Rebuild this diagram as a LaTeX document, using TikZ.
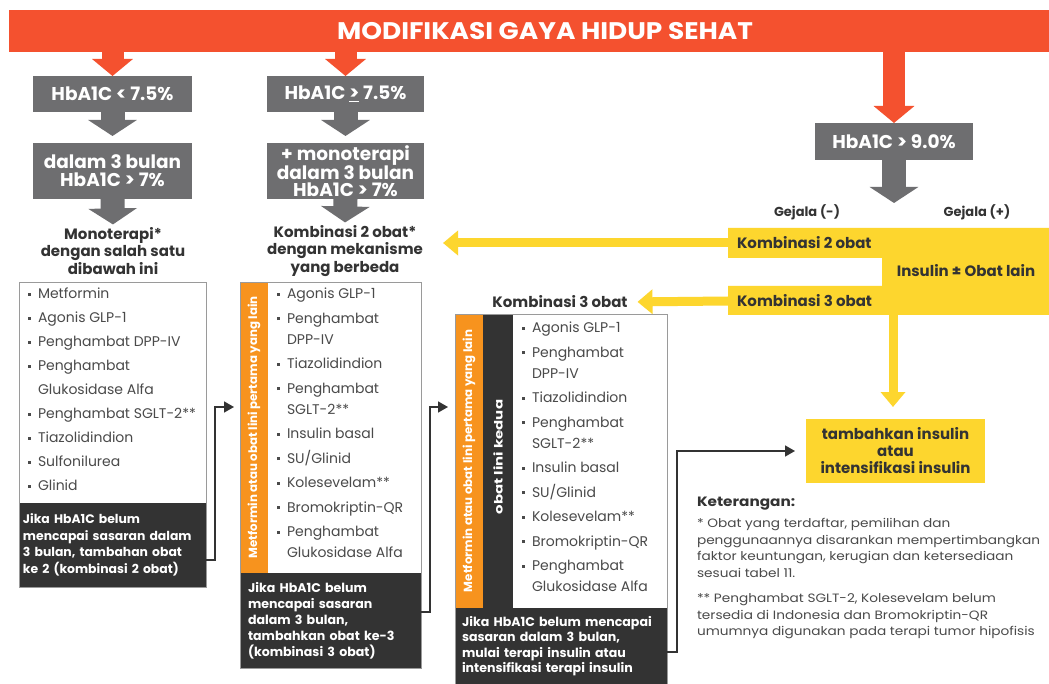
\documentclass[tikz,border=0pt]{standalone}
\usepackage{fontspec}
\setmainfont{Poppins}
\newfontfamily\widefont{Poppins}[FakeStretch=1.13]
\newfontfamily\bannerfont{Poppins}[FakeStretch=1.1]
\newfontfamily\kedfont{Poppins}[FakeStretch=1.3]
\usetikzlibrary{arrows.meta}
\definecolor{red1}{HTML}{F4512F}
\definecolor{gray1}{HTML}{6E6E70}
\definecolor{dark1}{HTML}{333333}
\definecolor{orng}{HTML}{F7931E}
\definecolor{yel}{HTML}{FDD62E}
\definecolor{txt}{HTML}{333333}
\definecolor{txt2}{HTML}{4A4A4A}
\definecolor{bord}{HTML}{9A9A9A}
\newcommand\bul{\makebox[10pt][l]{\raisebox{3pt}{\rule{3pt}{3pt}}}}
\newcommand\cnt{\hspace*{10pt}}
\begin{document}
\begin{tikzpicture}[x=1pt,y=-1pt,
  every node/.style={inner sep=0pt, outer sep=0pt},
  graybox/.style={fill=gray1, text=white, font=\bfseries\fontsize{18.5}{18}\selectfont, align=center, anchor=north west},
  redarr/.style={draw=red1, line width=22pt, -{Triangle[width=40pt,length=17pt]}, shorten <=-1pt},
  grayarr/.style={draw=gray1, line width=24pt, -{Triangle[width=48pt,length=16pt]}, shorten <=-1pt},
  yarr/.style={draw=yel, line width=9pt, -{Triangle[width=24pt,length=15pt]}, shorten <=-1pt},
  conn/.style={draw=dark1, line width=1.6pt, -{Triangle[width=11pt,length=10pt]}},
  hdtext/.style={text=txt, font=\bfseries\fontsize{15}{17.5}\selectfont, align=center},
  ytext/.style={text=txt, font=\bfseries\fontsize{15}{16}\selectfont},
  whitearea/.style={fill=white, anchor=north west},
  footbox/.style={fill=dark1, text=white, anchor=north west, align=left, font=\bfseries\fontsize{12.6}{16.5}\selectfont},
  items1/.style={text=txt2, anchor=north west, align=left, font=\fontsize{14}{24}\selectfont},
  items2/.style={text=txt2, anchor=north west, align=left, font=\fontsize{14}{21}\selectfont},
  strip/.style={anchor=north west},
  striptext/.style={rotate=90, text=white, font=\bfseries\fontsize{11.8}{12}\selectfont},
  frame/.style={draw=bord, line width=0.8pt}
]
\useasboundingbox (0,0) rectangle (1049,684);
\fill[white] (0,0) rectangle (1049,684);

% banner
\node[fill=red1, minimum width=1040pt, minimum height=42pt, anchor=north west] (banner) at (9,10) {};
\node[text=white, font=\bannerfont\bfseries\fontsize{24}{24}\selectfont] (bt) at (545,31) {MODIFIKASI GAYA HIDUP SEHAT};

% gray boxes
\node[graybox, minimum width=159pt, minimum height=36pt] (g1) at (33,76) {HbA1C < 7.5\%};
\node[graybox, minimum width=159pt, minimum height=56pt] (g2) at (33,143) {dalam 3 bulan\\HbA1C > 7\%};
\node[graybox, minimum width=157pt, minimum height=36pt] (g3) at (267,76) {HbA1C \underline{>} 7.5\%};
\node[graybox, minimum width=157pt, minimum height=56pt, font=\bfseries\fontsize{18.5}{16.5}\selectfont] (g4) at (267,143) {+ monoterapi\\dalam 3 bulan\\HbA1C > 7\%};
\node[graybox, minimum width=158pt, minimum height=37pt] (g5) at (815,123) {HbA1C > 9.0\%};

% headings
\node[hdtext] (h1) at (113,251) {Monoterapi*\\dengan salah satu\\dibawah ini};
\node[hdtext] (h2) at (345,251) {Kombinasi 2 obat*\\dengan mekanisme\\yang berbeda};

% red arrows
\draw[redarr] (g1.north |- banner.south) -- (g1.north);
\draw[redarr] (g3.north |- banner.south) -- (g3.north);
\draw[redarr] (g5.north |- banner.south) -- (g5.north);

% gray arrows
\draw[grayarr, shorten >=7pt] (g1.south) -- (g2.north);
\draw[grayarr, shorten >=3pt] (g2.south) -- (h1.north);
\draw[grayarr, shorten >=7pt] (g3.south) -- (g4.north);
\draw[grayarr, shorten >=3pt] (g4.south) -- (h2.north);
\coordinate (g5t) at (894,203);
\draw[grayarr] (g5.south) -- (g5t);

% Gejala
\node[text=txt, font=\bfseries\fontsize{13}{14}\selectfont] (gm) at (807,212) {Gejala (-)};
\node[text=txt, font=\bfseries\fontsize{13}{14}\selectfont] (gp) at (977,212) {Gejala (+)};

% yellow shape
\fill[yel] (728,228) -- (1049,228) -- (1049,315) -- (728,315) -- (728,286) -- (882,286) -- (882,258) -- (728,258) -- cycle;
\node[ytext, anchor=west, inner xsep=9pt] (k2) at (728,243) {Kombinasi 2 obat};
\node[ytext, anchor=west, inner xsep=9pt] (k3) at (728,301) {Kombinasi 3 obat};
\node[ytext] (ins) at (966,271) {Insulin ± Obat lain};
\coordinate (y2t) at (443,243);
\draw[yarr] (k2.west) -- (y2t);
\node[ytext] (k3lab) at (560,302) {Kombinasi 3 obat};
\draw[yarr, shorten >=10pt] (k3.west) -- (k3lab.east);
\node[fill=yel, minimum width=179pt, minimum height=64pt, anchor=north west, align=center, text=txt, font=\bfseries\fontsize{15}{17}\selectfont] (tb) at (806,419) {tambahkan insulin\\atau\\intensifikasi insulin};
\coordinate (ybot) at (893,314);
\draw[yarr, shorten >=12pt] (ybot) -- (ybot |- tb.north);

% box 1
\node[whitearea, minimum width=187pt, minimum height=221pt] (L1) at (19,282) {};
\node[footbox, minimum width=187pt, minimum height=84pt, text width=179pt, font=\bfseries\fontsize{12.4}{16.5}\selectfont] (F1) at (19,503) {Jika HbA1C belum\\mencapai sasaran dalam\\3 bulan, tambahan obat\\ke 2 (kombinasi 2 obat)};
\draw[frame] (L1.north west) rectangle (F1.south east);
\node[items1] (I1) at (28,288) {\bul Metformin\\
\bul Agonis GLP-1\\
\bul Penghambat DPP-IV\\
\bul Penghambat\\
\cnt Glukosidase Alfa\\
\bul Penghambat SGLT-2**\\
\bul Tiazolidindion\\
\bul Sulfonilurea\\
\bul Glinid};

% box 2
\node[strip, fill=orng, minimum width=28pt, minimum height=291pt] (O2) at (240,282) {};
\node[whitearea, minimum width=153pt, minimum height=291pt] (L2) at (268,282) {};
\node[footbox, minimum width=181pt, minimum height=95pt, text width=165pt, font=\bfseries\fontsize{12.6}{16}\selectfont] (F2) at (240,573) {Jika HbA1C belum\\mencapai sasaran\\dalam 3 bulan,\\tambahkan obat ke-3\\(kombinasi 3 obat)};
\draw[frame] (O2.north west) rectangle (F2.south east);
\node[striptext] (O2t) at (O2.center) {Metformin atau obat lini pertama yang lain};
\node[items2] (I2) at (277,288) {\bul Agonis GLP-1\\[3.5pt]
\bul Penghambat\\
\cnt DPP-IV\\[3.5pt]
\bul Tiazolidindion\\[3.5pt]
\bul Penghambat\\
\cnt SGLT-2**\\[3.5pt]
\bul Insulin basal\\[3.5pt]
\bul SU/Glinid\\[3.5pt]
\bul Kolesevelam**\\[3.5pt]
\bul Bromokriptin-QR\\[3.5pt]
\bul Penghambat\\
\cnt Glukosidase Alfa};

% box 3
\node[strip, fill=orng, minimum width=28pt, minimum height=294pt] (O3) at (455,314) {};
\node[strip, fill=dark1, minimum width=30pt, minimum height=294pt] (D3) at (483,314) {};
\node[whitearea, minimum width=154pt, minimum height=294pt] (L3) at (513,314) {};
\node[footbox, minimum width=212pt, minimum height=76pt, text width=198pt, font=\bfseries\fontsize{12.6}{15.5}\selectfont] (F3) at (455,608) {Jika HbA1C belum mencapai\\sasaran dalam 3 bulan,\\mulai terapi insulin atau\\intensifikasi terapi insulin};
\draw[frame] (F3.south west) -- (O3.north west) -- (L3.north east) -- (F3.south east);
\node[striptext] (O3t) at (O3.center) {Metformin atau obat lini pertama yang lain};
\node[striptext, font=\kedfont\bfseries\fontsize{11.5}{12}\selectfont] (D3t) at (498,457) {obat lini kedua};
\node[items2] (I3) at (522,322) {\bul Agonis GLP-1\\[3.5pt]
\bul Penghambat\\
\cnt DPP-IV\\[3.5pt]
\bul Tiazolidindion\\[3.5pt]
\bul Penghambat\\
\cnt SGLT-2**\\[3.5pt]
\bul Insulin basal\\[3.5pt]
\bul SU/Glinid\\[3.5pt]
\bul Kolesevelam**\\[3.5pt]
\bul Bromokriptin-QR\\[3.5pt]
\bul Penghambat\\
\cnt Glukosidase Alfa};

% connectors
\draw[conn, shorten >=6pt] ([yshift=-15pt]F1.east) -- ++(9,0) |- (O2.west |- 0,407);
\draw[conn, shorten >=7pt] ([yshift=8.5pt]F2.east) -- ++(9,0) |- (O3.west |- 0,407);
\draw[conn, shorten >=11pt] ([yshift=-6pt]F3.east) -- ++(10,0) |- (tb.west);

% keterangan
\node[anchor=north west, align=left, text=txt2, font=\widefont\fontsize{12.1}{16.5}\selectfont] (ket) at (697,497) {{\bfseries\fontsize{13.5}{16}\selectfont\color{txt} Keterangan:}\\[5pt]
* Obat yang terdaftar, pemilihan dan\\
penggunaannya disarankan mempertimbangkan\\
faktor keuntungan, kerugian dan ketersediaan\\
sesuai tabel 11.\\[9pt]
** Penghambat SGLT-2, Kolesevelam belum\\
tersedia di Indonesia dan Bromokriptin-QR\\
umumnya digunakan pada terapi tumor hipofisis};
\end{tikzpicture}
\end{document}
